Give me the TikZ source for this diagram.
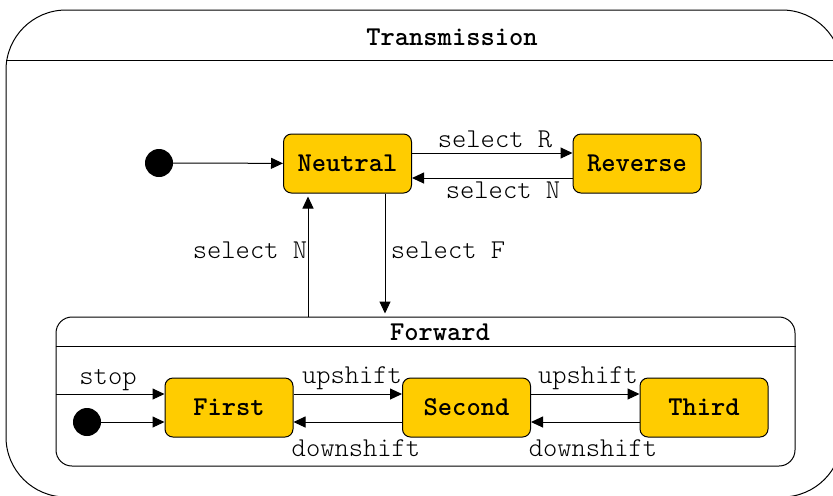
\documentclass[tikz,border=0pt]{standalone}
\usepackage{fontspec}
\setmonofont{lmmonolt10-regular.otf}[BoldFont=lmmonolt10-bold.otf]
\usetikzlibrary{arrows.meta}
\definecolor{stategold}{HTML}{FFCC00}

\begin{document}
\begin{tikzpicture}[x=0.5pt,y=-0.5pt,
  font=\ttfamily\fontsize{13.6}{16}\selectfont, line width=0.5pt,
  >={Triangle[length=6pt,width=5.5pt]},
  state/.style={draw, fill=stategold, rounded corners=4pt, minimum width=64pt, minimum height=29.5pt, inner sep=0pt, font=\ttfamily\bfseries\fontsize{13.6}{16}\selectfont},
  initial/.style={circle, draw, fill=black, minimum size=13.5pt, inner sep=0pt},
  frame/.style={draw, rounded corners=8pt, inner sep=0pt}]
\useasboundingbox (0,0) rectangle (833,495); \clip (0,0) rectangle (833,495);

% outer state
\draw [rounded corners=30pt] (6,10) rectangle (842,497); \draw (6,60) -- (842,60);
\node (transmission) at (452,37) {\bfseries Transmission};

\node [initial] (init) at (159,163) {};
\node [state] (neutral) at (347.5,163.5) {Neutral};
\node [state] (reverse) at (637,163.5) {Reverse};

\draw [->] (init) -- (neutral);
\draw [->] ([yshift=5.25pt]neutral.east) -- ([yshift=5.25pt]reverse.west); \node (selR) at (495,139) {select R};
\draw [->] ([yshift=-7.25pt]reverse.west) -- ([yshift=-7.25pt]neutral.east); \node (selNr) at (503,190) {select N};

% forward state
\node [frame, minimum width=369.5pt, minimum height=74.5pt] (forward) at (425.5,391.5) {};
\draw (forward.west |- 0,346) -- (forward.east |- 0,346);
\node (fwdtitle) at (440,332) {\bfseries Forward};

\draw [->,shorten >=1.5pt] ([xshift=18.75pt]neutral.south) -- ([xshift=18.75pt]neutral.south |- forward.north); \node (selF) at (448,250) {select F};
\draw [->,shorten >=1.5pt] ([xshift=-19.75pt]neutral.south |- forward.north) -- ([xshift=-19.75pt]neutral.south); \node (selNf) at (250,250) {select N};

\node [initial] (init2) at (87,422) {};
\node [state] (first) at (229,407.5) {First};
\node [state] (second) at (466.5,407.5) {Second};
\node [state] (third) at (704,407.5) {Third};

\draw [->] ([yshift=6.75pt]first.west -| forward.west) -- ([yshift=6.75pt]first.west); \node (stop) at (108,380) {stop};
\draw [->] (init2) -- ([yshift=-7.25pt]first.west);

\draw [->] ([yshift=6.75pt]first.east) -- ([yshift=6.75pt]second.west); \node (up1) at (352,378) {upshift};
\draw [->] ([yshift=6.75pt]second.east) -- ([yshift=6.75pt]third.west); \node (up2) at (588,378) {upshift};
\draw [->] ([yshift=-7.25pt]second.west) -- ([yshift=-7.25pt]first.east); \node (down1) at (356,448) {downshift};
\draw [->] ([yshift=-7.25pt]third.west) -- ([yshift=-7.25pt]second.east); \node (down2) at (593,448) {downshift};

\end{tikzpicture}
\end{document}
